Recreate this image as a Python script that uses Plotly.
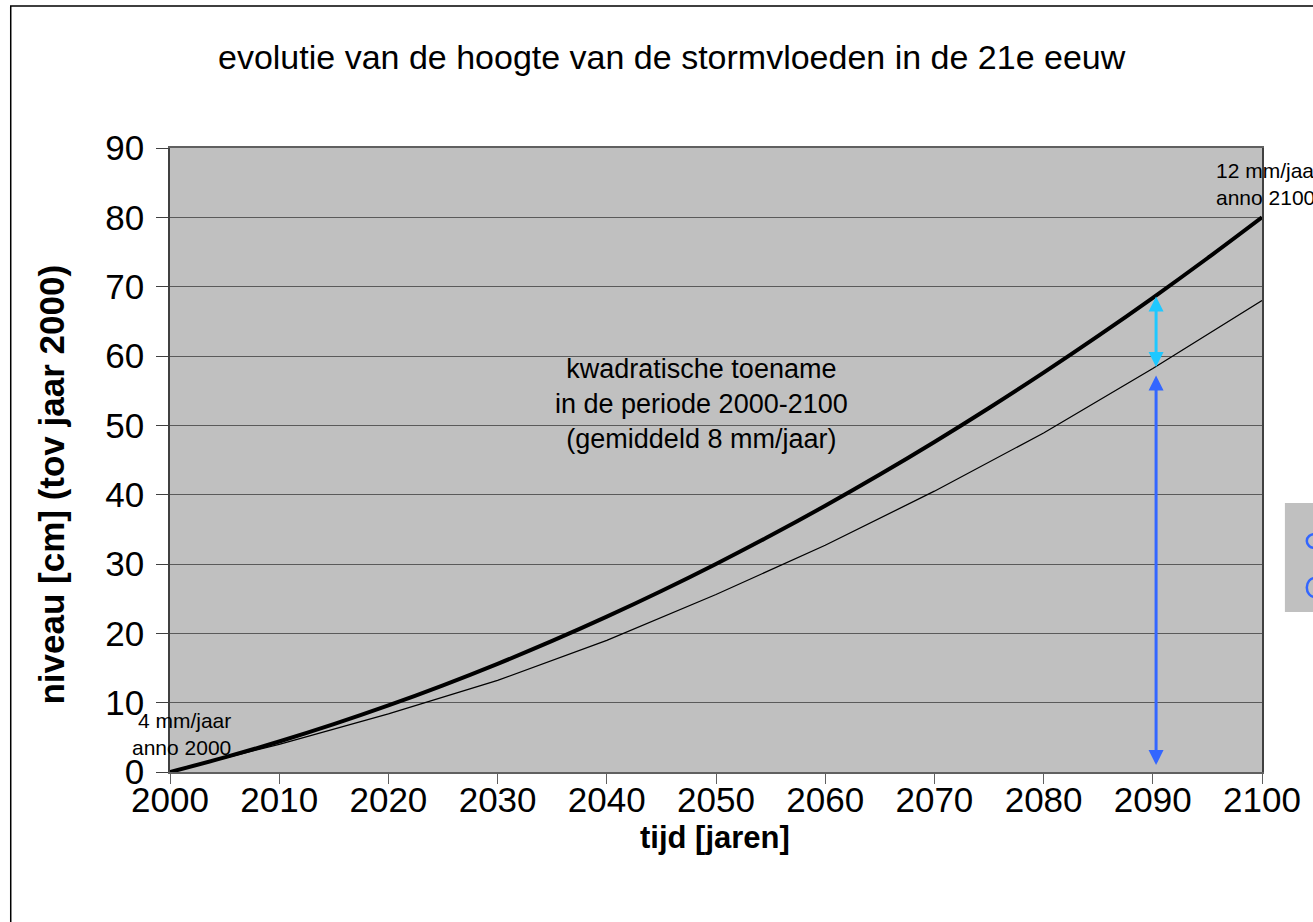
import plotly.graph_objects as go

# --- data ---
years_thick = [2000, 2005, 2010, 2015, 2020, 2025, 2030, 2035, 2040, 2045, 2050,
               2055, 2060, 2065, 2070, 2075, 2080, 2085, 2090, 2095, 2100]
level_quadratic = [0.0, 2.1, 4.4, 6.9, 9.6, 12.5, 15.6, 18.9, 22.4, 26.1, 30.0,
                   34.1, 38.4, 42.9, 47.6, 52.5, 57.6, 62.9, 68.4, 74.1, 80.0]
years_thin = [2000, 2010, 2020, 2030, 2040, 2050, 2060, 2070, 2080, 2090, 2100]
level_thin = [0.0, 4.0, 8.4, 13.2, 19.0, 25.6, 32.7, 40.5, 48.9, 58.2, 68.0]

x_ticks = [2000, 2010, 2020, 2030, 2040, 2050, 2060, 2070, 2080, 2090, 2100]
y_ticks = [0, 10, 20, 30, 40, 50, 60, 70, 80, 90]

arrow_x = 2090.3
cyan_arrow = (68.8, 58.4)
blue_arrow = (57.4, 1.0)

FONT = "Liberation Sans, Arial, sans-serif"
W, H = 1313, 922
L, R, T, B = 170, 1267, 148, 772


def px(p):
    return (p - L) / (R - L)


def py(p):
    return (B - p) / (B - T)


fig = go.Figure()
fig.add_trace(go.Scatter(x=years_thin, y=level_thin, mode="lines",
                         line=dict(color="black", width=1.3), showlegend=False,
                         hoverinfo="skip"))
fig.add_trace(go.Scatter(x=years_thick, y=level_quadratic, mode="lines",
                         line=dict(color="black", width=4, shape="spline"),
                         showlegend=False, hoverinfo="skip"))

annotations = []
# double-headed arrows
for (y_top, y_bot), col in [(cyan_arrow, "#1EC8FF"), (blue_arrow, "#3366FF")]:
    annotations.append(dict(x=arrow_x, y=y_bot, ax=arrow_x, ay=y_top,
                            xref="x", yref="y", axref="x", ayref="y",
                            showarrow=True, arrowhead=2, arrowside="end+start",
                            arrowwidth=3, arrowsize=1, arrowcolor=col,
                            standoff=0, startstandoff=0, text=""))

annotations += [
    dict(x=px(704), y=py(404), xref="paper", yref="paper",
         text="kwadratische toename<br>in de periode 2000-2100<br>(gemiddeld 8 mm/jaar)",
         showarrow=False, font=dict(family=FONT, size=27, color="black"),
         xanchor="center", yanchor="middle", align="center"),
    dict(x=px(1219), y=py(184), xref="paper", yref="paper",
         text="12 mm/jaar<br>anno 2100", showarrow=False,
         font=dict(family=FONT, size=21, color="black"),
         xanchor="left", yanchor="middle", align="left"),
    dict(x=px(233), y=py(734), xref="paper", yref="paper",
         text="4 mm/jaar<br>anno 2000", showarrow=False,
         font=dict(family=FONT, size=21, color="black"),
         xanchor="right", yanchor="middle", align="right"),
    dict(x=px(50), y=py(485), xref="paper", yref="paper",
         text="<b>niveau [cm] (tov jaar 2000)</b>", textangle=-90, showarrow=False,
         font=dict(family=FONT, size=35, color="black"),
         xanchor="center", yanchor="middle"),
    dict(x=px(717), y=py(837), xref="paper", yref="paper",
         text="<b>tijd [jaren]</b>", showarrow=False,
         font=dict(family=FONT, size=31, color="black"),
         xanchor="center", yanchor="middle"),
    dict(x=px(674), y=py(57), xref="paper", yref="paper",
         text="evolutie van de hoogte van de stormvloeden in de 21e eeuw",
         showarrow=False, font=dict(family=FONT, size=34, color="black"),
         xanchor="center", yanchor="middle"),
]

shapes = [
    # outer chart border (right/bottom edges fall outside the view)
    dict(type="rect", xref="paper", yref="paper", x0=px(10), y0=py(960),
         x1=px(1360), y1=py(6), line=dict(color="black", width=1.5),
         fillcolor="rgba(0,0,0,0)", layer="above"),
    # partially visible legend box on the right
    dict(type="rect", xref="paper", yref="paper", x0=px(1290), y0=py(612),
         x1=px(1360), y1=py(503), line=dict(width=0), fillcolor="#C0C0C0",
         layer="above"),
    dict(type="circle", xref="paper", yref="paper", x0=px(1312), y0=py(548),
         x1=px(1328), y1=py(534), line=dict(color="#3366FF", width=2.5),
         layer="above"),
    dict(type="circle", xref="paper", yref="paper", x0=px(1312), y0=py(597),
         x1=px(1328), y1=py(578), line=dict(color="#3366FF", width=2.5),
         layer="above"),
]

fig.update_layout(
    width=W, height=H,
    margin=dict(l=L, r=W - R, t=T, b=H - B, pad=0),
    paper_bgcolor="white", plot_bgcolor="#C0C0C0",
    font=dict(family=FONT, color="black"),
    annotations=annotations, shapes=shapes, showlegend=False,
)
fig.update_xaxes(range=[2000, 2100], tickvals=x_ticks, showgrid=False,
                 zeroline=False, showline=True, linecolor="#606060", linewidth=1.5,
                 mirror=True, ticks="outside", ticklen=10, tickcolor="#606060",
                 tickfont=dict(family=FONT, size=35), ticklabelstandoff=-14)
fig.update_yaxes(range=[0, 90], tickvals=y_ticks, showgrid=True,
                 gridcolor="#5a5a5a", gridwidth=1, zeroline=False, showline=True,
                 linecolor="#404040", linewidth=1.5, mirror=True, ticks="outside",
                 ticklen=12, tickcolor="#404040",
                 tickfont=dict(family=FONT, size=35), ticklabelstandoff=5)

fig.write_html("out.html")
